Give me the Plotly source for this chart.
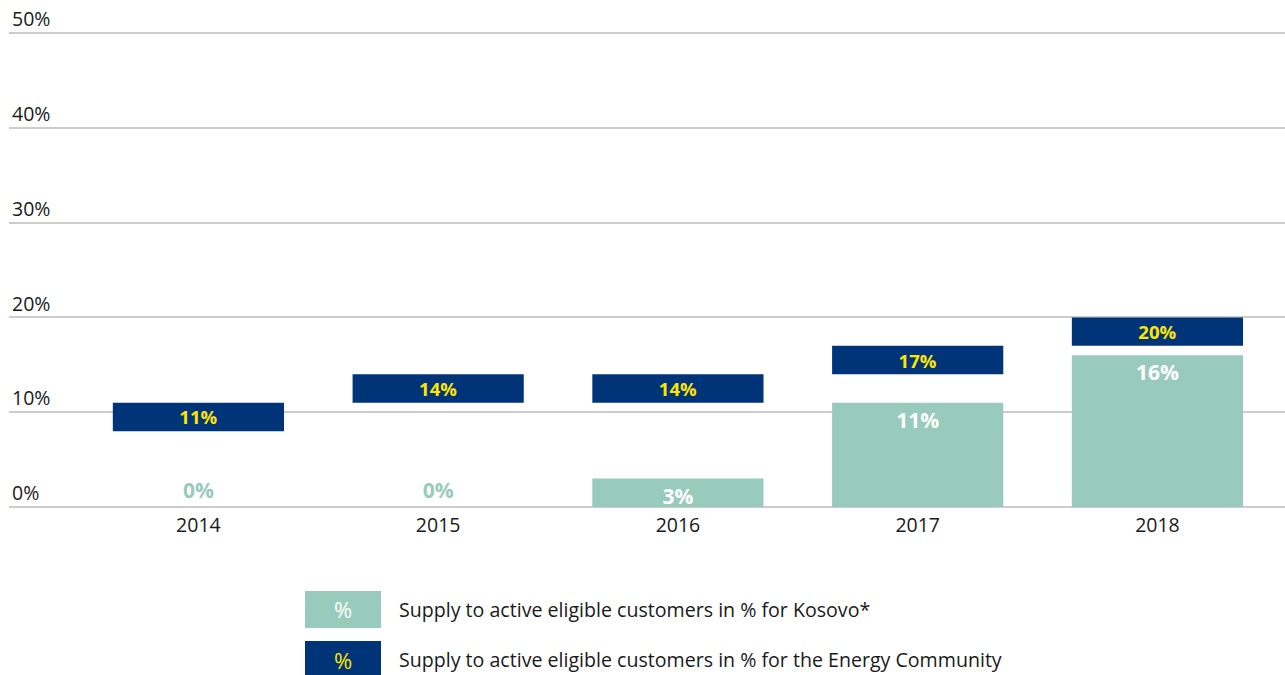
import plotly.graph_objects as go

years = ["2014", "2015", "2016", "2017", "2018"]
kosovo = [0, 0, 3, 11, 16]
energy_community = [11, 14, 14, 17, 20]
ec_band = [3, 3, 3, 3, 3]  # visual thickness of floating marker bars
y_ticks = [0, 10, 20, 30, 40, 50]
y_tick_labels = ["0%", "10%", "20%", "30%", "40%", "50%"]
legend_labels = [
    "Supply to active eligible customers in % for Kosovo*",
    "Supply to active eligible customers in % for the Energy Community",
]

TEAL = "#98CBBB"
NAVY = "#003478"
YELLOW = "#FFE500"
FONT = "Open Sans"

W, H = 1285, 675
ML, MR, MT, MB = 9, 0, 4, 168
PW, PH = W - ML - MR, H - MT - MB
ZERO_Y = H - MB           # pixel row of 0%
PX_PER_PCT = 9.48
Y_TOP = (ZERO_Y - MT) / PX_PER_PCT

def px(x):
    return (x - ML) / PW

def py(y):
    return (H - MB - y) / PH

fig = go.Figure()

k_pos = ["outside" if v == 0 else "inside" for v in kosovo]
k_col = [TEAL if v == 0 else "white" for v in kosovo]
fig.add_trace(go.Bar(
    x=years, y=kosovo, width=0.714, marker=dict(color=TEAL, line=dict(width=0)),
    text=[f"{v}%" for v in kosovo], textposition=k_pos,
    insidetextanchor="end", constraintext="none",
    textfont=dict(color=k_col, size=21, family=FONT, weight="bold"),
    cliponaxis=False, name=legend_labels[0], hoverinfo="skip",
))

fig.add_trace(go.Bar(
    x=years, y=ec_band, base=[v - b for v, b in zip(energy_community, ec_band)],
    width=0.714, marker=dict(color=NAVY, line=dict(width=0)),
    text=[f"{v}%" for v in energy_community], textposition="inside",
    insidetextanchor="middle", constraintext="none",
    textfont=dict(color=YELLOW, size=18.5, family=FONT, weight="bold"),
    name=legend_labels[1], hoverinfo="skip",
))

fig.update_layout(
    width=W, height=H, barmode="overlay", showlegend=False,
    margin=dict(l=ML, r=MR, t=MT, b=MB),
    paper_bgcolor="white", plot_bgcolor="white",
    font=dict(family=FONT, color="#1a1a1a", size=19),
    uniformtext=dict(mode=False),
    xaxis=dict(range=[-0.79, 4.532], showgrid=False, showline=False, zeroline=False,
               ticks="", ticklabelstandoff=4, tickfont=dict(size=19.5, color="#1a1a1a")),
    yaxis=dict(range=[0, Y_TOP], tickvals=y_ticks, ticktext=y_tick_labels,
               ticklabelposition="inside top", ticks="", showline=False,
               gridcolor="#CCCCCC", gridwidth=1.5, zeroline=True,
               zerolinecolor="#CCCCCC", zerolinewidth=1.5,
               tickfont=dict(size=19.5, color="#1a1a1a")),
)

# custom legend
box_cols = [TEAL, NAVY]
pct_cols = ["white", YELLOW]
box_tops = [591, 641]
for i, lab in enumerate(legend_labels):
    top = box_tops[i]
    fig.add_shape(type="rect", xref="paper", yref="paper",
                  x0=px(305), x1=px(381), y0=py(top + 37), y1=py(top),
                  fillcolor=box_cols[i], line=dict(width=0))
    fig.add_annotation(xref="paper", yref="paper", x=px(343), y=py(top + 18.5),
                       text="%", showarrow=False, xanchor="center", yanchor="middle",
                       font=dict(size=22, color=pct_cols[i], family=FONT))
    fig.add_annotation(xref="paper", yref="paper", x=px(397), y=py(top + 18.5),
                       text=lab, showarrow=False, xanchor="left", yanchor="middle",
                       font=dict(size=19.6, color="#1a1a1a", family=FONT))

fig.write_html("out.html", config={"displayModeBar": False},
               post_script="document.body.style.margin='0';")
